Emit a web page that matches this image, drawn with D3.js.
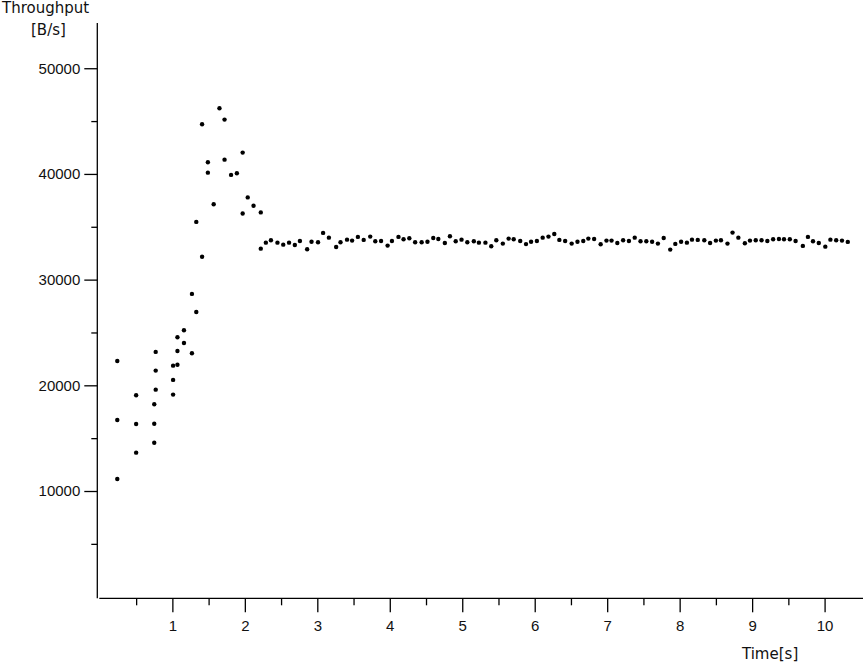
<!DOCTYPE html>
<html>
<head>
<meta charset="utf-8">
<script src="https://cdn.jsdelivr.net/npm/d3@7"></script>
<style>
  body { margin: 0; background: #fff; }
  svg { display: block; font-family: "DejaVu Sans", sans-serif; }
  .axis text { font-size: 15px; fill: #111; }
  .axis line, .axis path { stroke: #000; stroke-width: 1.3px; }
</style>
</head>
<body>
<svg width="863" height="665"></svg>
<script>
const times = [
  0.24, 0.24, 0.24, 0.50, 0.50, 0.50,
  0.77, 0.77, 0.77, 0.75, 0.75, 0.75,
  1.01, 1.01, 1.01, 1.07, 1.07, 1.07, 1.16, 1.16,
  1.27, 1.27, 1.33, 1.33, 1.41, 1.41, 1.49, 1.49, 1.57, 1.65,
  1.72, 1.72, 1.81, 1.89, 1.97, 1.97, 2.04, 2.12, 2.22, 2.22,
  2.29, 2.36, 2.45, 2.53, 2.61, 2.69, 2.76, 2.86, 2.92, 3.01,
  3.08, 3.16, 3.26, 3.32, 3.41, 3.48, 3.56, 3.64, 3.73, 3.80,
  3.88, 3.97, 4.03, 4.12, 4.19, 4.27, 4.35, 4.44, 4.52, 4.60,
  4.67, 4.76, 4.83, 4.91, 4.99, 5.07, 5.16, 5.23, 5.32, 5.40,
  5.47, 5.56, 5.64, 5.71, 5.80, 5.88, 5.95, 6.03, 6.11, 6.19,
  6.27, 6.34, 6.42, 6.51, 6.59, 6.67, 6.74, 6.82, 6.91, 6.99,
  7.06, 7.14, 7.22, 7.30, 7.38, 7.46, 7.54, 7.62, 7.70, 7.78,
  7.87, 7.94, 8.02, 8.10, 8.17, 8.25, 8.34, 8.42, 8.50, 8.57,
  8.66, 8.73, 8.81, 8.90, 8.97, 9.05, 9.13, 9.21, 9.29, 9.37,
  9.44, 9.52, 9.60, 9.70, 9.77, 9.84, 9.92, 10.01, 10.08, 10.16,
  10.24, 10.32
];
const throughput = [
  22300, 16720, 11140, 19060, 16340, 13630,
  23160, 21390, 19590, 18210, 16370, 14570,
  21860, 20510, 19120, 24550, 23250, 21950, 25210, 24010,
  28650, 23030, 26940, 35460, 44700, 32170, 41110, 40120, 37130, 46220,
  45140, 41350, 39910, 40070, 42020, 36260, 37780, 36990, 36360, 32930,
  33500, 33730, 33500, 33310, 33500, 33280, 33660, 32870, 33590, 33540,
  34420, 33970, 33090, 33540, 33780, 33690, 34040, 33760, 34070, 33630,
  33660, 33220, 33660, 34040, 33820, 33920, 33540, 33540, 33590, 33940,
  33850, 33470, 34110, 33630, 33780, 33540, 33630, 33500, 33500, 33160,
  33730, 33410, 33880, 33820, 33660, 33360, 33590, 33660, 33970, 34070,
  34320, 33760, 33660, 33410, 33590, 33660, 33880, 33850, 33350, 33690,
  33690, 33470, 33730, 33660, 33970, 33630, 33630, 33590, 33410, 33940,
  32840, 33380, 33590, 33500, 33780, 33760, 33730, 33470, 33690, 33730,
  33410, 34450, 33970, 33440, 33690, 33730, 33730, 33660, 33820, 33850,
  33820, 33820, 33660, 33190, 34040, 33630, 33470, 33120, 33780, 33730,
  33690, 33570
];

// Axis ticks
const yMajor = [10000, 20000, 30000, 40000, 50000];
const yMinor = [5000, 15000, 25000, 35000, 45000];
const xMajor = [1, 2, 3, 4, 5, 6, 7, 8, 9, 10];
const xMinor = [0.5, 1.5, 2.5, 3.5, 4.5, 5.5, 6.5, 7.5, 8.5, 9.5];

var svg = d3.select("svg");

var x = d3.scaleLinear().domain([0, 10.53]).range([99.9, 863]);
var y = d3.scaleLinear().domain([0, 54280]).range([596.7, 23]);

var axisX = 97.3, axisY = 598.3;

// minor ticks first (no labels)
svg.append("g")
    .attr("class", "axis")
    .attr("transform", "translate(0," + axisY + ")")
    .call(d3.axisBottom(x).tickValues(xMinor).tickSize(7).tickFormat(""))
    .select(".domain").remove();

svg.append("g")
    .attr("class", "axis")
    .attr("transform", "translate(" + axisX + ",0)")
    .call(d3.axisLeft(y).tickValues(yMinor).tickSize(6).tickFormat(""))
    .select(".domain").remove();

// major ticks + labels
svg.append("g")
    .attr("class", "axis")
    .attr("transform", "translate(0," + axisY + ")")
    .call(d3.axisBottom(x).tickValues(xMajor).tickSize(14).tickPadding(8)
        .tickSizeOuter(0).tickFormat(d3.format("d")))
    .select(".domain").attr("d", "M99.3,0H863");

svg.append("g")
    .attr("class", "axis")
    .attr("transform", "translate(" + axisX + ",0)")
    .call(d3.axisLeft(y).tickValues(yMajor).tickSize(13).tickPadding(4)
        .tickSizeOuter(0).tickFormat(d3.format("d")))
    .select(".domain").attr("d", "M0,23V" + axisY);

// axis titles
svg.append("text")
    .attr("x", 2).attr("y", 13)
    .style("font-size", "15px").attr("fill", "#111")
    .text("Throughput");

svg.append("text")
    .attr("x", 31).attr("y", 35)
    .style("font-size", "15px").attr("fill", "#111")
    .text("[B/s]");

svg.append("text")
    .attr("x", 742).attr("y", 659)
    .style("font-size", "15px").attr("fill", "#111")
    .text("Time[s]");

// points
svg.append("g")
    .selectAll("circle")
    .data(times)
    .enter().append("circle")
    .attr("cx", function(d) { return x(d); })
    .attr("cy", function(d, i) { return y(throughput[i]); })
    .attr("r", 2.2)
    .attr("fill", "#000");
</script>
</body>
</html>
